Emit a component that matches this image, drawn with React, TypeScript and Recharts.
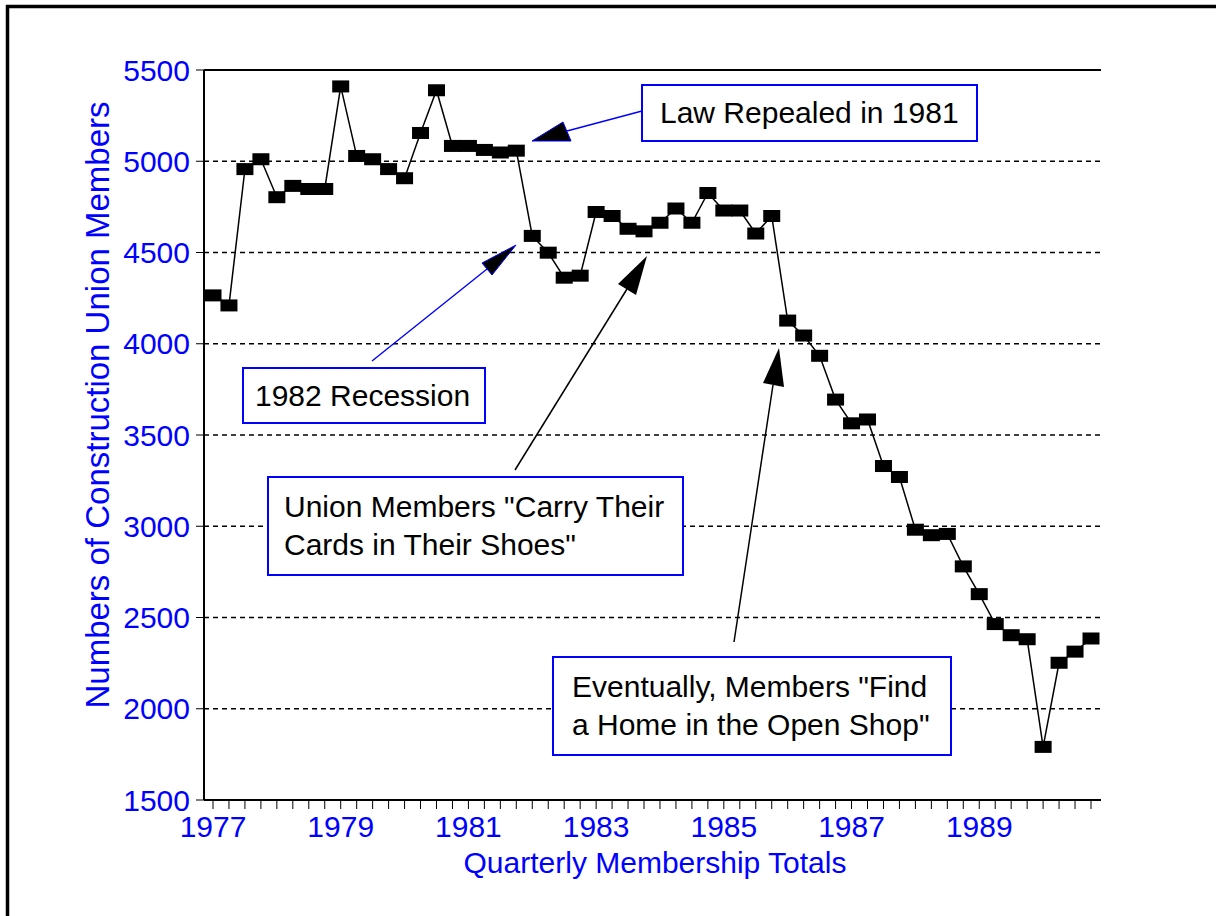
import React from 'react'
import {
  LineChart,
  Line,
  XAxis,
  YAxis,
  CartesianGrid,
  ReferenceLine,
} from 'recharts'

// quarterly totals, 1977 Q1 .. 1990 Q4
const members = [
  4265, 4210, 4957, 5011, 4803, 4865, 4848, 4848,
  5410, 5029, 5011, 4957, 4907, 5155, 5389, 5084,
  5084, 5062, 5048, 5058, 4591, 4499, 4362, 4373,
  4722, 4700, 4630, 4616, 4663, 4741, 4663, 4826,
  4730, 4730, 4604, 4700, 4127, 4045, 3934, 3694,
  3564, 3585, 3330, 3270, 2981, 2951, 2958, 2780,
  2628, 2464, 2403, 2381, 1791, 2252, 2313, 2385,
]
const firstYear = 1977
const labelEvery = 8 // a label every two years
const yTicks = [1500, 2000, 2500, 3000, 3500, 4000, 4500, 5000, 5500]

const data = members.map((v, i) => ({
  label: i % labelEvery === 0 ? String(firstYear + i / 4) : '',
  members: v,
}))

const FONT = '"Liberation Sans", Arial, sans-serif'
const BLUE = '#0000ff'

const Square = (props: any) => {
  const { cx, cy, index } = props
  if (cx == null || cy == null) return <g key={index} />
  return <rect key={index} x={cx - 8.5} y={cy - 6} width={17} height={12} fill="#000" />
}

// annotation boxes and arrows drawn on top of the chart
const Callouts = () => (
  <svg
    width={1216}
    height={916}
    style={{ position: 'absolute', left: 0, top: 0, pointerEvents: 'none' }}
    fontFamily={FONT}
  >
    {/* page frame */}
    <line x1={7.5} y1={5} x2={7.5} y2={916} stroke="#000" strokeWidth={3.5} />
    <line x1={6} y1={6.5} x2={1216} y2={6.5} stroke="#000" strokeWidth={3.5} />

    {/* Law Repealed */}
    <line x1={642} y1={111} x2={567} y2={131} stroke={BLUE} strokeWidth={1.5} />
    <polygon points="532,141 563,122 571,141" fill="#000" stroke={BLUE} strokeWidth={1} />
    <rect x={642} y={85} width={335} height={56} fill="#fff" stroke={BLUE} strokeWidth={2} />
    <text x={660} y={123} fontSize={30} fill="#000">Law Repealed in 1981</text>

    {/* 1982 Recession */}
    <line x1={372} y1={361} x2={487} y2={269} stroke={BLUE} strokeWidth={1.5} />
    <polygon points="516,245 482,263 492,275" fill="#000" stroke={BLUE} strokeWidth={1} />
    <rect x={243} y={368} width={242} height={55} fill="#fff" stroke={BLUE} strokeWidth={2} />
    <text x={255} y={406} fontSize={30} fill="#000">1982 Recession</text>

    {/* Carry their cards */}
    <line x1={515} y1={470} x2={627} y2={289} stroke="#000" strokeWidth={1.5} />
    <polygon points="647,256 618,284 636,295" fill="#000" />
    <rect x={268} y={477} width={415} height={98} fill="#fff" stroke={BLUE} strokeWidth={2} />
    <text x={284} y={517} fontSize={30} fill="#000">Union Members "Carry Their</text>
    <text x={284} y={555} fontSize={30} fill="#000">Cards in Their Shoes"</text>

    {/* Open shop */}
    <line x1={734} y1={642} x2={773} y2={385} stroke="#000" strokeWidth={1.5} />
    <polygon points="779,348 763,383 784,387" fill="#000" />
    <rect x={553} y={657} width={398} height={98} fill="#fff" stroke={BLUE} strokeWidth={2} />
    <text x={572} y={697} fontSize={30} fill="#000">Eventually, Members "Find</text>
    <text x={572} y={735} fontSize={30} fill="#000">a Home in the Open Shop"</text>

    {/* axis titles */}
    <text
      x={0}
      y={0}
      transform="translate(109 405) rotate(-90)"
      textAnchor="middle"
      fontSize={33}
      fill={BLUE}
    >
      Numbers of Construction Union Members
    </text>
    <text x={655} y={873} textAnchor="middle" fontSize={30} fill={BLUE}>
      Quarterly Membership Totals
    </text>
  </svg>
)

export default function App() {
  return (
    <div style={{ position: 'relative', width: 1216, height: 916, background: '#fff', fontFamily: FONT }}>
      <style>{'body{margin:0}'}</style>
      <LineChart
        width={1216}
        height={916}
        data={data}
        margin={{ top: 70, right: 115, bottom: 0, left: 0 }}
      >
        <CartesianGrid vertical={false} stroke="#000" strokeWidth={1.3} strokeDasharray="5 4" />
        <XAxis
          dataKey="label"
          interval={0}
          height={116}
          padding={{ left: 9, right: 10 }}
          axisLine={{ stroke: '#000', strokeWidth: 2 }}
          tickLine={{ stroke: '#000' }}
          tickSize={9}
          tickMargin={7}
          tick={{ fill: BLUE, fontSize: 30, fontFamily: FONT }}
        />
        <YAxis
          width={204}
          domain={[1500, 5500]}
          ticks={yTicks}
          interval={0}
          axisLine={{ stroke: '#000', strokeWidth: 2 }}
          tickLine={{ stroke: '#000' }}
          tickSize={8}
          tickMargin={6}
          tick={{ fill: BLUE, fontSize: 30, fontFamily: FONT }}
        />
        <YAxis
          yAxisId="r"
          orientation="right"
          width={0}
          domain={[1500, 5500]}
          tick={false}
          tickLine={false}
          axisLine={{ stroke: '#000', strokeWidth: 2 }}
        />
        <ReferenceLine y={5500} stroke="#000" strokeWidth={2} />
        <Line
          type="linear"
          dataKey="members"
          stroke="#000"
          strokeWidth={1.5}
          dot={Square}
          activeDot={false}
          isAnimationActive={false}
        />
      </LineChart>
      <Callouts />
    </div>
  )
}
